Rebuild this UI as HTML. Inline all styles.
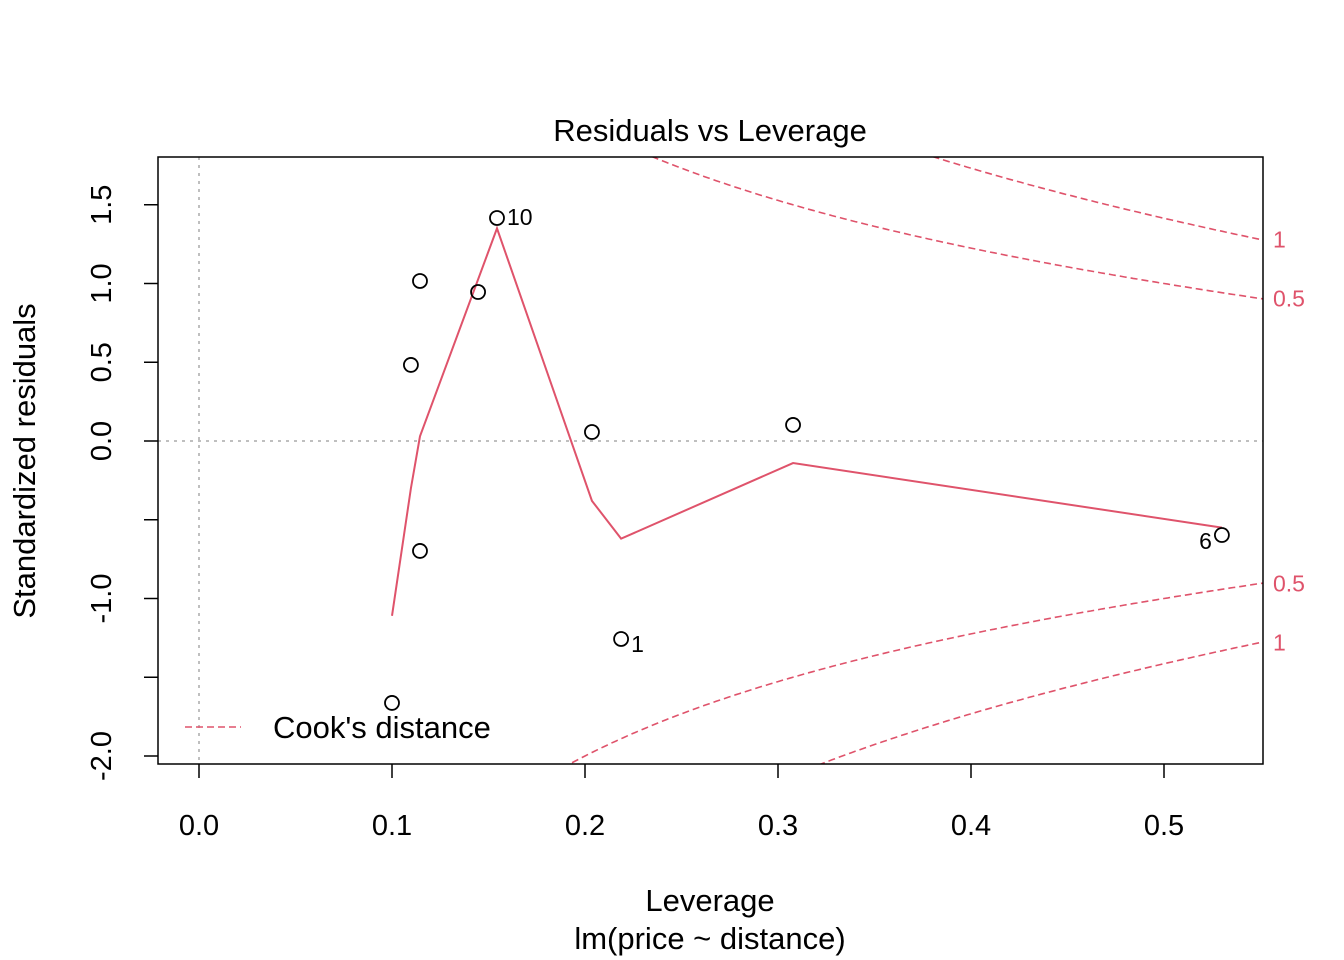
<!DOCTYPE html>
<html><head><meta charset="utf-8"><style>
html,body{margin:0;padding:0;background:#fff;overflow:hidden;width:1344px;height:960px;}
svg{display:block;}
svg text{font-family:"Liberation Sans",Arial,sans-serif;}
</style></head><body>
<svg id="chart" width="1344" height="960" xmlns="http://www.w3.org/2000/svg">
<defs><clipPath id="clip"><rect x="158" y="157" width="1105" height="607"/></clipPath></defs>
<g id="plot"></g>
</svg>
<script>
const leverage = [0.100, 0.1098, 0.1145, 0.1145, 0.1446, 0.1544, 0.2036, 0.2187, 0.3078, 0.530];
const residuals = [-1.663, 0.483, 1.016, -0.698, 0.946, 1.416, 0.057, -1.257, 0.102, -0.597];
const smoothX = [0.100, 0.1098, 0.1145, 0.1544, 0.2036, 0.2187, 0.3078, 0.530];
const smoothY = [-1.11, -0.30, 0.03, 1.35, -0.38, -0.62, -0.14, -0.55];
const pointLabels = [{i:5,t:"10",dx:10,dy:7,a:"start"},{i:7,t:"1",dx:10,dy:13,a:"start"},{i:9,t:"6",dx:-10,dy:14,a:"end"}];
const xTicks = [0.0,0.1,0.2,0.3,0.4,0.5];
const xTickLabels = ["0.0","0.1","0.2","0.3","0.4","0.5"];
const yTicks = [-2.0,-1.5,-1.0,-0.5,0.0,0.5,1.0,1.5];
const yTickLabels = ["-2.0","","-1.0","","0.0","0.5","1.0","1.5"];
const cookLevels = [0.5, 1];
const nParams = 2;

const X = v => 199 + v*1930;
const Y = v => 441 - v*157.5;
const NS="http://www.w3.org/2000/svg";
const g=document.getElementById('plot');
function el(tag,attrs,parent){const e=document.createElementNS(NS,tag);for(const k in attrs)e.setAttribute(k,attrs[k]);(parent||g).appendChild(e);return e;}

let l=el('line',{x1:158,x2:1263,y1:Y(0),y2:Y(0),stroke:'#aaa','stroke-width':1.5,'stroke-dasharray':'3,5'});


l=el('line',{x1:X(0),x2:X(0),y1:157,y2:764,stroke:'#aaa','stroke-width':1.5,'stroke-dasharray':'3,5'});



const cg=el('g',{'clip-path':'url(#clip)'});
cookLevels.forEach(c=>{
  [1,-1].forEach(s=>{
    let d='';
    for(let h=0.05;h<=0.56;h+=0.002){
      const r=s*Math.sqrt(c*nParams*(1-h)/h);
      d+=(d?'L':'M')+X(h).toFixed(1)+','+Y(r).toFixed(1);
    }
    const p=el('path',{d:d,fill:'none',stroke:'#DF536B','stroke-width':1.6,'stroke-dasharray':'7,4'},cg);
    
    
    const r=s*Math.sqrt(c*nParams*(1-0.55)/0.55);
    const t=el('text',{x:1273,y:Y(r)+8,fill:'#DF536B','font-size':23});
    t.textContent=String(c);
    
    
  });
});

const sl=el('polyline',{points:smoothX.map((x,i)=>X(x)+','+Y(smoothY[i])).join(' '),fill:'none',stroke:'#DF536B','stroke-width':2});



leverage.forEach((x,i)=>{
  const c=el('circle',{cx:X(x),cy:Y(residuals[i]),r:7,fill:'none',stroke:'#000','stroke-width':1.8});
  
  
});
pointLabels.forEach(p=>{
  const t=el('text',{x:X(leverage[p.i])+p.dx,y:Y(residuals[p.i])+p.dy,'font-size':23,'text-anchor':p.a});
  t.textContent=p.t;
  
  
});

const b=el('rect',{x:158,y:157,width:1105,height:607,fill:'none',stroke:'#000','stroke-width':1.5});



xTicks.forEach((v,i)=>{
  const tk=el('line',{x1:X(v),x2:X(v),y1:764,y2:778,stroke:'#000','stroke-width':1.5});
  
  
  const t=el('text',{x:X(v),y:835,'font-size':29,'text-anchor':'middle'});
  t.textContent=xTickLabels[i];
  
  
});
yTicks.forEach((v,i)=>{
  const tk=el('line',{x1:144,x2:158,y1:Y(v),y2:Y(v),stroke:'#000','stroke-width':1.5});
  
  
  if(yTickLabels[i]){
    const t=el('text',{x:0,y:0,'font-size':29,'text-anchor':'middle',transform:`translate(111,${Y(v)}) rotate(-90)`});
    t.textContent=yTickLabels[i];
    
    
  }
});

function txt(x,y,s,size,name,extra){const t=el('text',Object.assign({x:x,y:y,'font-size':size,'text-anchor':'middle'},extra||{}));t.textContent=s;return t;}
txt(710,141,'Residuals vs Leverage',31,'chart-title');
txt(710,911,'Leverage',31,'x-axis-title');
txt(710,949,'lm(price ~ distance)',31,'x-axis-subtitle');
txt(0,0,'Standardized residuals',31,'y-axis-title',{transform:'translate(35,461) rotate(-90)'});

const lg=el('line',{x1:185,x2:241,y1:727,y2:727,stroke:'#DF536B','stroke-width':1.6,'stroke-dasharray':'7,4'});


txt(273,738,"Cook's distance",31,'legend-label',{'text-anchor':'start'});
</script>
</body></html>
